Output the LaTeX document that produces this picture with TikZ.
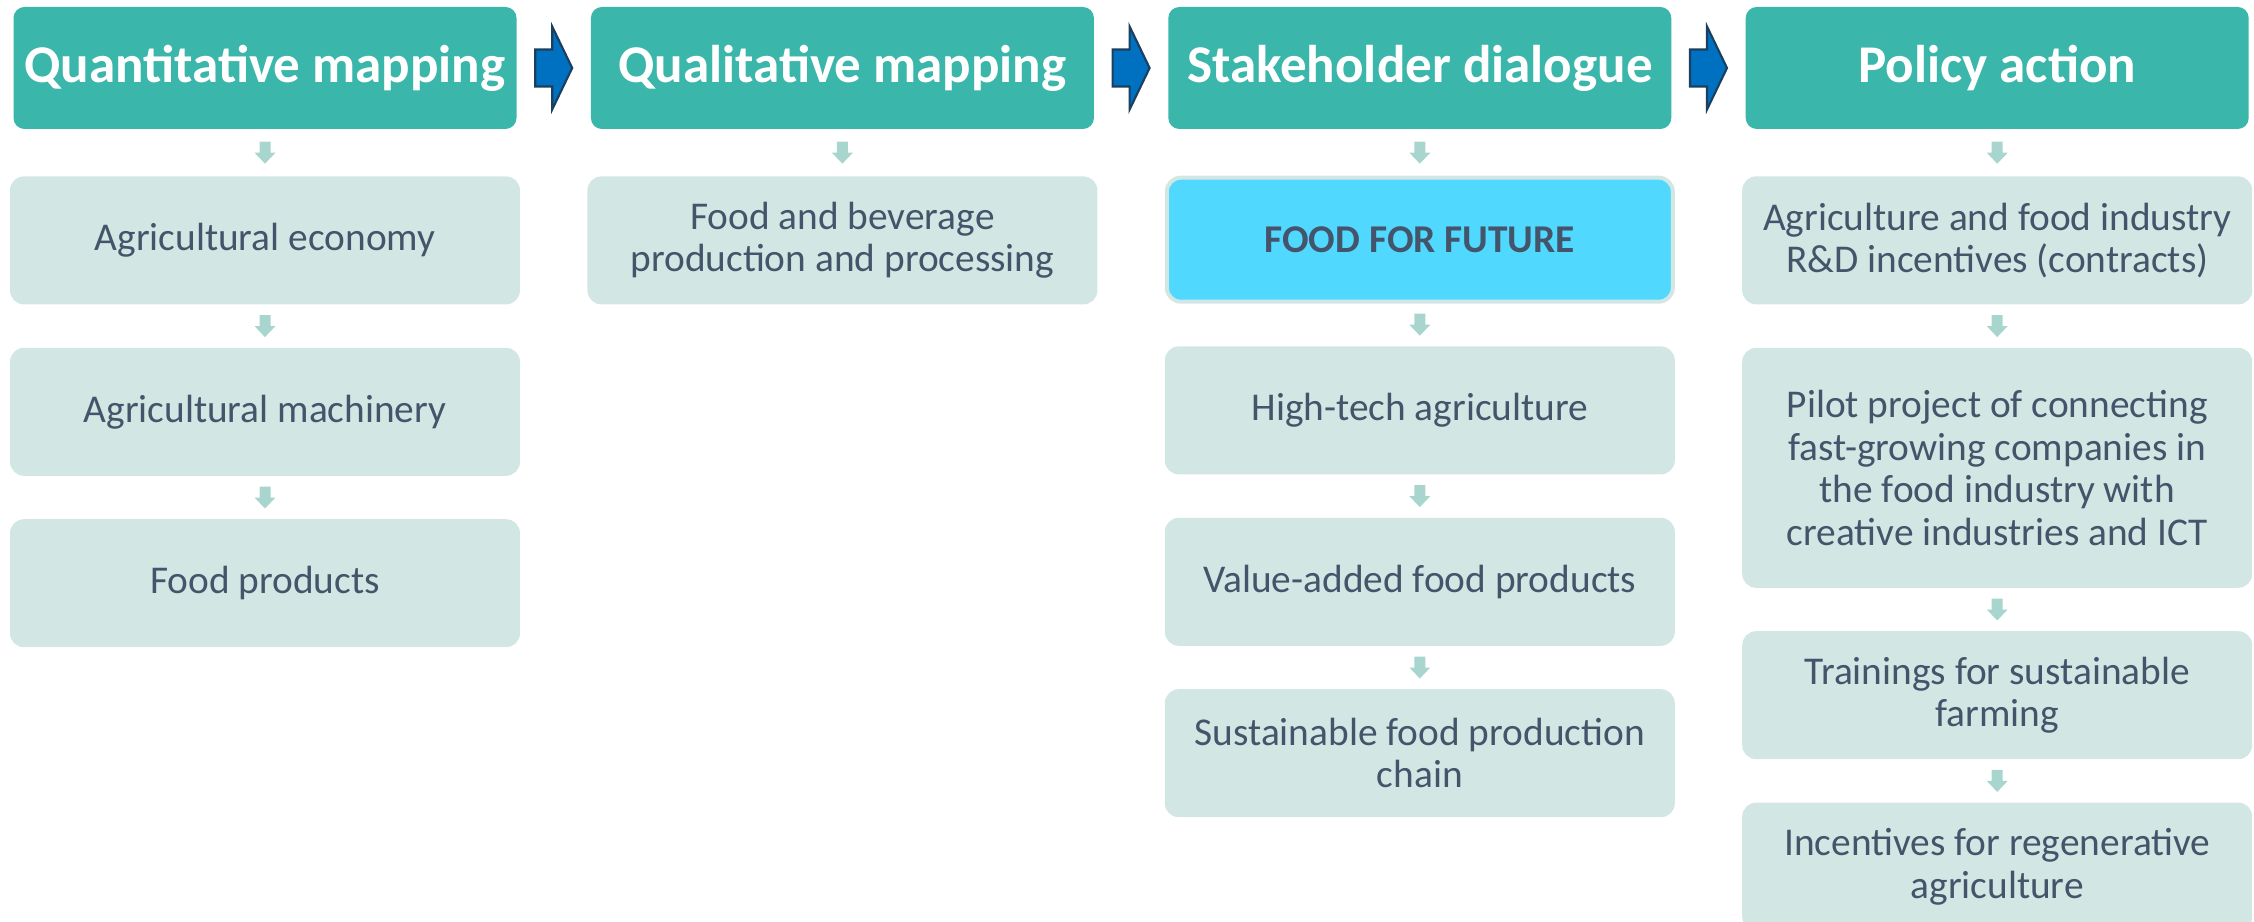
\documentclass[tikz,border=0pt]{standalone}
\usepackage{fontspec}
\setmainfont{Carlito}
\usetikzlibrary{positioning}
\usetikzlibrary{calc}
\definecolor{stagefill}{HTML}{3AB6AA}
\definecolor{itemfill}{HTML}{D2E6E3}
\definecolor{itemtext}{HTML}{44546A}
\definecolor{focusfill}{HTML}{50D8FF}
\definecolor{stepfill}{HTML}{A8D6CF}
\definecolor{flowfill}{HTML}{0070C0}
\definecolor{flowedge}{HTML}{1B3F5F}
\tikzset{
	box_base/.style = {
		align=center,
		inner sep=0pt,
		text centered
	},
	node_stage/.style = {
		box_base,
		rectangle,
		rounded corners=1.1mm,
		text=white,
		fill=stagefill,
		font=\bfseries\fontsize{15.1}{18}\selectfont,
		minimum width=50.3mm,
		minimum height=12.2mm
	},
	node_item/.style = {
		box_base,
		rectangle,
		rounded corners=1.4mm,
		fill=itemfill,
		text=itemtext,
		font=\fontsize{11.2}{12.1}\selectfont,
		minimum width=51mm,
		minimum height=12.8mm
	},
	node_item_tall/.style = {
		node_item,
		minimum height=24mm
	},
	node_focus/.style = {
		node_item,
		fill=focusfill,
		draw=itemfill,
		line width=0.4mm,
		font=\bfseries\fontsize{11.2}{12.1}\selectfont,
		minimum width=50.6mm,
		minimum height=12.4mm
	},
	edge_flow/.style = {
		fill=flowfill,
		draw=flowedge,
		line width=0.6pt,
		line join=miter,
		to path={($(\tikztostart.east)!0.5!(\tikztotarget.west)$)
			++(-1.85mm,1.85mm) -- ++(1.7mm,0) -- ++(0,2.3mm) -- ++(2mm,-4.15mm)
			-- ++(-2mm,-4.15mm) -- ++(0,2.3mm) -- ++(-1.7mm,0) -- cycle}
	},
	edge_step/.style = {
		fill=stepfill,
		to path={($(\tikztostart.south)!0.5!(\tikztotarget.north)$)
			++(-0.55mm,1.1mm) -- ++(1.1mm,0) -- ++(0,-1.1mm) -- ++(0.5mm,0)
			-- ++(-1.05mm,-1.1mm) -- ++(-1.05mm,1.1mm) -- ++(0.5mm,0) -- cycle}
	},
}

\begin{document}
\begin{tikzpicture}[node distance=4.2mm and 7.3mm]
\useasboundingbox (0,0) rectangle (225.4mm,-92.2mm);
\node [node_stage] (quan) at (26.5mm,-6.8mm) {Quantitative mapping};
\node [node_stage, right=of quan] (qual) {Qualitative mapping};
\node [node_stage, right=of qual] (stake) {Stakeholder dialogue};
\node [node_stage, right=of stake] (policy) {Policy action};

\node [node_item, below=4.6mm of quan] (econ) {Agricultural economy};
\node [node_item, below=of econ] (mach) {Agricultural machinery};
\node [node_item, below=of mach] (prod) {Food products};

\node [node_item, below=4.6mm of qual] (bev) {Food and beverage\\production and processing};

\node [node_focus, below=4.6mm of stake] (fff) {FOOD FOR FUTURE};
\node [node_item, below=of fff] (tech) {High-tech agriculture};
\node [node_item, below=of tech] (value) {Value-added food products};
\node [node_item, below=of value] (chain) {Sustainable food production\\chain};

\node [node_item, below=4.6mm of policy] (rd) {Agriculture and food industry\\R\&D incentives (contracts)};
\node [node_item_tall, below=of rd] (pilot) {Pilot project of connecting\\fast-growing companies in\\the food industry with\\creative industries and ICT};
\node [node_item, below=of pilot] (train) {Trainings for sustainable\\farming};
\node [node_item, below=of train] (regen) {Incentives for regenerative\\agriculture};

\path [edge_flow] (quan) to (qual);
\path [edge_flow] (qual) to (stake);
\path [edge_flow] (stake) to (policy);

\path [edge_step] (quan) to (econ);
\path [edge_step] (econ) to (mach);
\path [edge_step] (mach) to (prod);
\path [edge_step] (qual) to (bev);
\path [edge_step] (stake) to (fff);
\path [edge_step] (fff) to (tech);
\path [edge_step] (tech) to (value);
\path [edge_step] (value) to (chain);
\path [edge_step] (policy) to (rd);
\path [edge_step] (rd) to (pilot);
\path [edge_step] (pilot) to (train);
\path [edge_step] (train) to (regen);
\end{tikzpicture}
\end{document}
